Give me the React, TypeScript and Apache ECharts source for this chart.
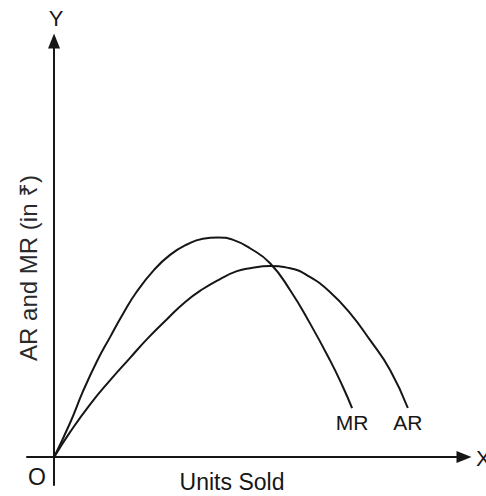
import React, { useEffect, useRef } from "react";
import * as echarts from "echarts";

// Units sold (x) and revenue in ₹ (y) (arbitrary units)
const unitsMR = [0, 3.9, 7.1, 10.5, 13.7, 16.8, 20.2, 24.4, 28.3, 32.4, 36.3, 40.0, 43.7, 47.8, 52.7, 57.6, 62.4, 67.3, 70.5, 72.7];
const valuesMR = [0, 8.2, 15.9, 23.1, 28.9, 34.4, 39.8, 45.0, 48.6, 51.1, 52.5, 52.8, 52.2, 50.2, 46.6, 40.1, 32.2, 23.3, 16.8, 11.8];
const unitsAR = [0, 3.9, 8.8, 13.7, 18.5, 22.9, 27.6, 32.0, 36.3, 40.5, 44.6, 47.8, 52.7, 57.6, 62.4, 67.3, 72.2, 77.1, 82.0, 86.3];
const valuesAR = [0, 6.0, 12.7, 18.5, 23.8, 28.6, 33.2, 37.3, 40.4, 42.8, 44.7, 45.4, 45.9, 45.4, 43.3, 39.7, 34.6, 28.1, 20.9, 11.8];

const seriesNames = ["MR", "AR"];
const xAxisTitle = "Units Sold";
const yAxisTitle = "AR and MR (in ₹)";
const originLabel = "O";
const xLetter = "X";
const yLetter = "Y";

const INK = "#161616";
const FONT = "'Liberation Sans', Arial, 'Noto Sans', sans-serif";

export default function App() {
  const ref = useRef<HTMLDivElement>(null);
  useEffect(() => {
    if (!ref.current) return;
    const chart = echarts.init(ref.current, undefined, { renderer: "svg" });
    const mk = (name: string, xs: number[], ys: number[]) => ({
      name,
      type: "line",
      data: xs.map((x, i) => [x, ys[i]]),
      smooth: 0.5,
      showSymbol: false,
      symbol: "none",
      lineStyle: { color: INK, width: 2 },
      endLabel: {
        show: true,
        formatter: name,
        color: INK,
        fontFamily: FONT,
        fontSize: 21,
        align: "center",
        verticalAlign: "top",
        offset: [-8, 4],
      },
      silent: true,
    });
    chart.setOption({
      animation: false,
      backgroundColor: "#ffffff",
      grid: { left: 27, right: 22, top: 41, bottom: 11 },
      xAxis: {
        type: "value",
        min: -6.6,
        max: 100,
        axisLine: {
          onZero: true,
          symbol: ["none", "triangle"],
          symbolSize: [12, 15],
          lineStyle: { color: INK, width: 2 },
        },
        axisTick: { show: false },
        axisLabel: { show: false },
        splitLine: { show: false },
      },
      yAxis: {
        type: "value",
        min: -6.7,
        max: 100,
        axisLine: {
          show: true,
          onZero: true,
          symbol: ["none", "triangle"],
          symbolSize: [12, 15],
          lineStyle: { color: INK, width: 2 },
        },
        axisTick: { show: false },
        axisLabel: { show: false },
        splitLine: { show: false },
      },
      series: [mk(seriesNames[0], unitsMR, valuesMR), mk(seriesNames[1], unitsAR, valuesAR)],
      graphic: [
        {
          type: "text",
          x: 56,
          y: 18,
          style: { text: yLetter, fill: INK, font: `22px ${FONT}`, align: "center", verticalAlign: "middle" },
        },
        {
          type: "text",
          x: 37,
          y: 477,
          style: { text: originLabel, fill: INK, font: `23px ${FONT}`, align: "center", verticalAlign: "middle" },
        },
        {
          type: "text",
          x: 476,
          y: 458,
          style: { text: xLetter, fill: INK, font: `22px ${FONT}`, align: "left", verticalAlign: "middle" },
        },
        {
          type: "text",
          x: 232,
          y: 482,
          style: { text: xAxisTitle, fill: INK, font: `23px ${FONT}`, align: "center", verticalAlign: "middle" },
        },
        {
          type: "text",
          x: 28,
          y: 268,
          rotation: Math.PI / 2,
          style: { text: yAxisTitle, fill: "#2a2a2a", font: `24px ${FONT}`, align: "center", verticalAlign: "middle" },
        },
      ],
    });
    return () => chart.dispose();
  }, []);
  return (
    <div
      ref={ref}
      style={{ position: "fixed", left: 0, top: 0, width: 486, height: 496 }}
    />
  );
}
